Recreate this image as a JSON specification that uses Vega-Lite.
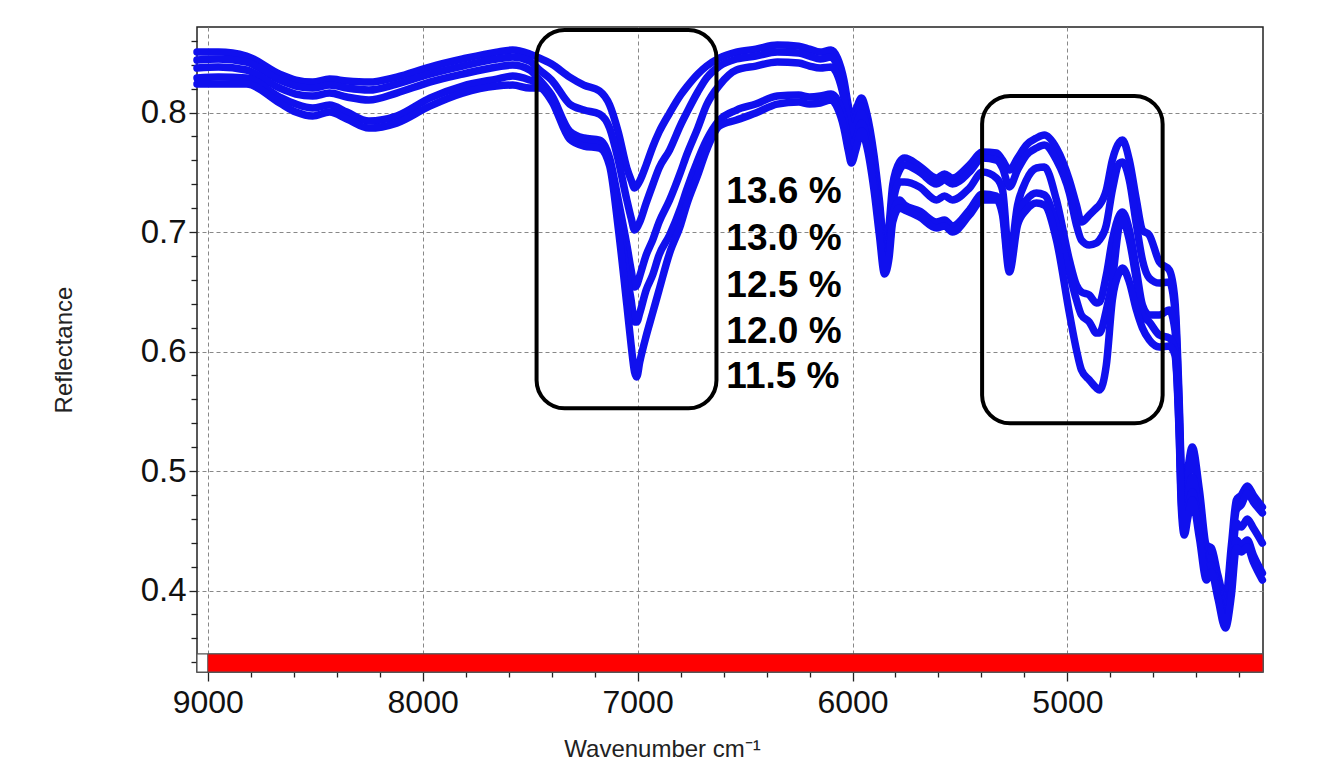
{
  "$schema": "https://vega.github.io/schema/vega-lite/v6.json",
  "width": 1066,
  "height": 645,
  "autosize": {"type": "none"},
  "padding": {"left": 197, "top": 27, "right": 56, "bottom": 90},
  "background": "white",
  "config": {
    "font": "Liberation Sans",
    "view": {"stroke": "#222", "strokeWidth": 1.5},
    "axis": {"labelFont": "Liberation Sans", "titleFont": "Liberation Sans"}
  },
  "encoding": {
    "x": {
      "field": "w",
      "type": "quantitative",
      "scale": {"domain": [4090, 9050], "reverse": true, "nice": false, "zero": false},
      "axis": {
        "title": "Wavenumber cm⁻¹",
        "values": [4200, 4400, 4600, 4800, 5000, 5200, 5400, 5600, 5800, 6000, 6200, 6400, 6600, 6800, 7000, 7200, 7400, 7600, 7800, 8000, 8200, 8400, 8600, 8800, 9000],
        "format": "d",
        "labelExpr": "datum.value % 1000 === 0 ? datum.label : ''",
        "labelFontSize": 32,
        "labelColor": "#111",
        "labelPadding": 6,
        "labelOverlap": false,
        "labelFlush": false,
        "labelBound": false,
        "tickSize": {"condition": {"test": "datum.value % 1000 === 0", "value": 9}, "value": 5},
        "tickColor": "#222",
        "tickWidth": 1.3,
        "domain": false,
        "grid": true,
        "gridOpacity": {"condition": {"test": "datum.value % 1000 === 0", "value": 1}, "value": 0},
        "gridColor": "#888",
        "gridDash": [4, 3],
        "gridWidth": 1,
        "titleFontSize": 24,
        "titleFontWeight": "normal",
        "titleColor": "#222",
        "titleX": 465,
        "titleY": 84,
        "titleBaseline": "alphabetic",
        "titleAlign": "center"
      }
    },
    "y": {
      "field": "r",
      "type": "quantitative",
      "scale": {"domain": [0.3318, 0.8716], "nice": false, "zero": false},
      "axis": {
        "title": "Reflectance",
        "values": [0.34, 0.36, 0.38, 0.4, 0.42, 0.44, 0.46, 0.48, 0.5, 0.52, 0.54, 0.56, 0.58, 0.6, 0.62, 0.64, 0.66, 0.68, 0.7, 0.72, 0.74, 0.76, 0.78, 0.8, 0.82, 0.84, 0.86],
        "labelExpr": "abs(datum.value*10 - round(datum.value*10)) < 0.001 ? format(datum.value, '.1f') : ''",
        "labelFontSize": 33,
        "labelColor": "#111",
        "labelPadding": 3,
        "labelOverlap": false,
        "labelFlush": false,
        "labelBound": false,
        "tickSize": {"condition": {"test": "abs(datum.value*10 - round(datum.value*10)) < 0.001", "value": 8}, "value": 6},
        "tickColor": "#222",
        "tickWidth": 1.3,
        "domain": false,
        "grid": true,
        "gridOpacity": {"condition": {"test": "abs(datum.value*10 - round(datum.value*10)) < 0.001", "value": 1}, "value": 0},
        "gridColor": "#888",
        "gridDash": [4, 3],
        "gridWidth": 1,
        "titleFontSize": 24,
        "titleFontWeight": "normal",
        "titleColor": "#222",
        "titlePadding": 64
      }
    }
  },
  "layer": [
    {
      "data": {"values": [{"w": 9050, "w2": 4090, "r": 0.3318, "r2": 0.3469}]},
      "mark": {"type": "rect", "fill": "white", "stroke": "#555", "strokeWidth": 1.2},
      "encoding": {"x2": {"field": "w2"}, "y2": {"field": "r2"}}
    },
    {
      "data": {"values": [{"w": 9000, "w2": 4090, "r": 0.3318, "r2": 0.3469}]},
      "mark": {"type": "rect", "fill": "#ff0000", "stroke": "#555", "strokeWidth": 1},
      "encoding": {"x2": {"field": "w2"}, "y2": {"field": "r2"}}
    },
    {
      "data": {"values": [
        {"w": 9050, "a": 0.8506, "b": 0.8439, "c": 0.8372, "d": 0.8289, "e": 0.8238},
        {"w": 8950, "a": 0.8506, "b": 0.8448, "c": 0.8381, "d": 0.8297, "e": 0.8238},
        {"w": 8820, "a": 0.8473, "b": 0.8423, "c": 0.8356, "d": 0.8289, "e": 0.8238},
        {"w": 8665, "a": 0.8322, "b": 0.8272, "c": 0.8205, "d": 0.8130, "e": 0.8080},
        {"w": 8590, "a": 0.8272, "b": 0.8222, "c": 0.8155, "d": 0.8071, "e": 0.8004},
        {"w": 8512, "a": 0.8255, "b": 0.8205, "c": 0.8138, "d": 0.8038, "e": 0.7971},
        {"w": 8433, "a": 0.8280, "b": 0.8230, "c": 0.8163, "d": 0.8063, "e": 0.8004},
        {"w": 8353, "a": 0.8264, "b": 0.8205, "c": 0.8130, "d": 0.8004, "e": 0.7946},
        {"w": 8250, "a": 0.8255, "b": 0.8188, "c": 0.8105, "d": 0.7929, "e": 0.7870},
        {"w": 8121, "a": 0.8297, "b": 0.8238, "c": 0.8163, "d": 0.7971, "e": 0.7912},
        {"w": 7967, "a": 0.8381, "b": 0.8322, "c": 0.8255, "d": 0.8121, "e": 0.8054},
        {"w": 7814, "a": 0.8448, "b": 0.8389, "c": 0.8322, "d": 0.8222, "e": 0.8163},
        {"w": 7656, "a": 0.8506, "b": 0.8448, "c": 0.8381, "d": 0.8280, "e": 0.8222},
        {"w": 7581, "a": 0.8523, "b": 0.8464, "c": 0.8398, "d": 0.8305, "e": 0.8230},
        {"w": 7502, "a": 0.8490, "b": 0.8431, "c": 0.8356, "d": 0.8272, "e": 0.8205},
        {"w": 7456, "a": 0.8456, "b": 0.8356, "c": 0.8272, "d": 0.8238, "e": 0.8205},
        {"w": 7400, "a": 0.8406, "b": 0.8272, "c": 0.8146, "d": 0.8121, "e": 0.8096},
        {"w": 7316, "a": 0.8297, "b": 0.8071, "c": 0.7845, "d": 0.7812, "e": 0.7778},
        {"w": 7250, "a": 0.8230, "b": 0.8021, "c": 0.7787, "d": 0.7753, "e": 0.7720},
        {"w": 7177, "a": 0.8180, "b": 0.7987, "c": 0.7770, "d": 0.7736, "e": 0.7703},
        {"w": 7130, "a": 0.8063, "b": 0.7870, "c": 0.7619, "d": 0.7586, "e": 0.7552},
        {"w": 7090, "a": 0.7837, "b": 0.7602, "c": 0.7268, "d": 0.7142, "e": 0.7034},
        {"w": 7050, "a": 0.7536, "b": 0.7268, "c": 0.6892, "d": 0.6640, "e": 0.6390},
        {"w": 7030, "a": 0.7435, "b": 0.7117, "c": 0.6682, "d": 0.6431, "e": 0.6054},
        {"w": 7014, "a": 0.7368, "b": 0.7017, "c": 0.6540, "d": 0.6247, "e": 0.5828},
        {"w": 7004, "a": 0.7385, "b": 0.7034, "c": 0.6556, "d": 0.6247, "e": 0.5787},
        {"w": 6990, "a": 0.7427, "b": 0.7084, "c": 0.6632, "d": 0.6322, "e": 0.5912},
        {"w": 6960, "a": 0.7561, "b": 0.7243, "c": 0.6808, "d": 0.6515, "e": 0.6130},
        {"w": 6930, "a": 0.7711, "b": 0.7393, "c": 0.6933, "d": 0.6640, "e": 0.6322},
        {"w": 6900, "a": 0.7837, "b": 0.7536, "c": 0.7084, "d": 0.6808, "e": 0.6515},
        {"w": 6851, "a": 0.7996, "b": 0.7686, "c": 0.7268, "d": 0.6975, "e": 0.6824},
        {"w": 6800, "a": 0.8146, "b": 0.7895, "c": 0.7502, "d": 0.7201, "e": 0.7059},
        {"w": 6772, "a": 0.8213, "b": 0.7996, "c": 0.7644, "d": 0.7352, "e": 0.7226},
        {"w": 6720, "a": 0.8322, "b": 0.8172, "c": 0.7870, "d": 0.7602, "e": 0.7477},
        {"w": 6679, "a": 0.8389, "b": 0.8289, "c": 0.8063, "d": 0.7770, "e": 0.7686},
        {"w": 6619, "a": 0.8456, "b": 0.8389, "c": 0.8230, "d": 0.7937, "e": 0.7887},
        {"w": 6540, "a": 0.8506, "b": 0.8448, "c": 0.8356, "d": 0.8021, "e": 0.7937},
        {"w": 6450, "a": 0.8531, "b": 0.8473, "c": 0.8389, "d": 0.8071, "e": 0.7996},
        {"w": 6350, "a": 0.8565, "b": 0.8506, "c": 0.8423, "d": 0.8138, "e": 0.8071},
        {"w": 6250, "a": 0.8556, "b": 0.8498, "c": 0.8414, "d": 0.8146, "e": 0.8088},
        {"w": 6200, "a": 0.8531, "b": 0.8473, "c": 0.8389, "d": 0.8130, "e": 0.8071},
        {"w": 6150, "a": 0.8506, "b": 0.8448, "c": 0.8372, "d": 0.8138, "e": 0.8080},
        {"w": 6100, "a": 0.8523, "b": 0.8464, "c": 0.8381, "d": 0.8155, "e": 0.8105},
        {"w": 6070, "a": 0.8456, "b": 0.8389, "c": 0.8314, "d": 0.8105, "e": 0.8038},
        {"w": 6040, "a": 0.8272, "b": 0.8205, "c": 0.8121, "d": 0.7954, "e": 0.7870},
        {"w": 6020, "a": 0.8063, "b": 0.7996, "c": 0.7921, "d": 0.7770, "e": 0.7686},
        {"w": 6005, "a": 0.7937, "b": 0.7870, "c": 0.7803, "d": 0.7669, "e": 0.7577},
        {"w": 5985, "a": 0.8021, "b": 0.7954, "c": 0.7887, "d": 0.7770, "e": 0.7686},
        {"w": 5958, "a": 0.8121, "b": 0.8054, "c": 0.7996, "d": 0.7912, "e": 0.7845},
        {"w": 5935, "a": 0.8004, "b": 0.7937, "c": 0.7879, "d": 0.7795, "e": 0.7728},
        {"w": 5900, "a": 0.7644, "b": 0.7586, "c": 0.7519, "d": 0.7435, "e": 0.7352},
        {"w": 5875, "a": 0.7268, "b": 0.7209, "c": 0.7142, "d": 0.7059, "e": 0.6975},
        {"w": 5851, "a": 0.6866, "b": 0.6808, "c": 0.6749, "d": 0.6699, "e": 0.6649},
        {"w": 5830, "a": 0.7059, "b": 0.6992, "c": 0.6916, "d": 0.6850, "e": 0.6782},
        {"w": 5813, "a": 0.7393, "b": 0.7310, "c": 0.7226, "d": 0.7142, "e": 0.7084},
        {"w": 5781, "a": 0.7586, "b": 0.7519, "c": 0.7418, "d": 0.7268, "e": 0.7201},
        {"w": 5758, "a": 0.7619, "b": 0.7561, "c": 0.7418, "d": 0.7226, "e": 0.7185},
        {"w": 5688, "a": 0.7552, "b": 0.7502, "c": 0.7377, "d": 0.7176, "e": 0.7126},
        {"w": 5609, "a": 0.7452, "b": 0.7402, "c": 0.7268, "d": 0.7084, "e": 0.7034},
        {"w": 5572, "a": 0.7485, "b": 0.7435, "c": 0.7301, "d": 0.7101, "e": 0.7050},
        {"w": 5535, "a": 0.7452, "b": 0.7402, "c": 0.7268, "d": 0.7050, "e": 0.7000},
        {"w": 5456, "a": 0.7561, "b": 0.7502, "c": 0.7368, "d": 0.7185, "e": 0.7142},
        {"w": 5395, "a": 0.7669, "b": 0.7619, "c": 0.7502, "d": 0.7318, "e": 0.7268},
        {"w": 5330, "a": 0.7661, "b": 0.7602, "c": 0.7452, "d": 0.7301, "e": 0.7268},
        {"w": 5302, "a": 0.7602, "b": 0.7536, "c": 0.7352, "d": 0.7185, "e": 0.7142},
        {"w": 5270, "a": 0.7519, "b": 0.7377, "c": 0.6782, "d": 0.6724, "e": 0.6665},
        {"w": 5232, "a": 0.7619, "b": 0.7519, "c": 0.7226, "d": 0.7142, "e": 0.7059},
        {"w": 5191, "a": 0.7728, "b": 0.7644, "c": 0.7435, "d": 0.7268, "e": 0.7185},
        {"w": 5144, "a": 0.7787, "b": 0.7703, "c": 0.7536, "d": 0.7326, "e": 0.7243},
        {"w": 5107, "a": 0.7812, "b": 0.7728, "c": 0.7544, "d": 0.7310, "e": 0.7226},
        {"w": 5051, "a": 0.7703, "b": 0.7602, "c": 0.7268, "d": 0.7059, "e": 0.6933},
        {"w": 4991, "a": 0.7435, "b": 0.7326, "c": 0.6766, "d": 0.6657, "e": 0.6322},
        {"w": 4958, "a": 0.7226, "b": 0.7059, "c": 0.6556, "d": 0.6431, "e": 0.6013},
        {"w": 4935, "a": 0.7084, "b": 0.6933, "c": 0.6498, "d": 0.6306, "e": 0.5846},
        {"w": 4898, "a": 0.7142, "b": 0.6892, "c": 0.6473, "d": 0.6247, "e": 0.5762},
        {"w": 4865, "a": 0.7201, "b": 0.6908, "c": 0.6406, "d": 0.6155, "e": 0.5695},
        {"w": 4851, "a": 0.7226, "b": 0.6933, "c": 0.6414, "d": 0.6155, "e": 0.5678},
        {"w": 4819, "a": 0.7352, "b": 0.7059, "c": 0.6640, "d": 0.6347, "e": 0.5887},
        {"w": 4791, "a": 0.7602, "b": 0.7352, "c": 0.6933, "d": 0.6598, "e": 0.6431},
        {"w": 4758, "a": 0.7753, "b": 0.7577, "c": 0.7142, "d": 0.7059, "e": 0.6665},
        {"w": 4744, "a": 0.7770, "b": 0.7586, "c": 0.7168, "d": 0.7101, "e": 0.6699},
        {"w": 4712, "a": 0.7602, "b": 0.7435, "c": 0.7017, "d": 0.6933, "e": 0.6582},
        {"w": 4679, "a": 0.7268, "b": 0.7059, "c": 0.6682, "d": 0.6598, "e": 0.6347},
        {"w": 4651, "a": 0.7017, "b": 0.6766, "c": 0.6390, "d": 0.6306, "e": 0.6197},
        {"w": 4619, "a": 0.6975, "b": 0.6615, "c": 0.6306, "d": 0.6247, "e": 0.6096},
        {"w": 4572, "a": 0.6749, "b": 0.6573, "c": 0.6306, "d": 0.6138, "e": 0.6038},
        {"w": 4526, "a": 0.6682, "b": 0.6582, "c": 0.6347, "d": 0.6113, "e": 0.6046},
        {"w": 4500, "a": 0.6431, "b": 0.6347, "c": 0.6180, "d": 0.6013, "e": 0.5971},
        {"w": 4480, "a": 0.5594, "b": 0.5510, "c": 0.5427, "d": 0.5343, "e": 0.5301},
        {"w": 4470, "a": 0.5008, "b": 0.4941, "c": 0.4841, "d": 0.4757, "e": 0.4691},
        {"w": 4456, "a": 0.4757, "b": 0.4716, "c": 0.4632, "d": 0.4531, "e": 0.4464},
        {"w": 4440, "a": 0.5008, "b": 0.4941, "c": 0.4799, "d": 0.4674, "e": 0.4607},
        {"w": 4419, "a": 0.5201, "b": 0.5134, "c": 0.4950, "d": 0.4824, "e": 0.4757},
        {"w": 4386, "a": 0.4841, "b": 0.4774, "c": 0.4632, "d": 0.4506, "e": 0.4439},
        {"w": 4353, "a": 0.4381, "b": 0.4322, "c": 0.4256, "d": 0.4155, "e": 0.4088},
        {"w": 4330, "a": 0.4356, "b": 0.4314, "c": 0.4272, "d": 0.4213, "e": 0.4155},
        {"w": 4300, "a": 0.4130, "b": 0.4088, "c": 0.4046, "d": 0.3988, "e": 0.3937},
        {"w": 4265, "a": 0.3920, "b": 0.3862, "c": 0.3795, "d": 0.3736, "e": 0.3686},
        {"w": 4237, "a": 0.4381, "b": 0.4297, "c": 0.4172, "d": 0.4046, "e": 0.3962},
        {"w": 4214, "a": 0.4757, "b": 0.4674, "c": 0.4565, "d": 0.4422, "e": 0.4356},
        {"w": 4191, "a": 0.4799, "b": 0.4716, "c": 0.4531, "d": 0.4381, "e": 0.4322},
        {"w": 4163, "a": 0.4874, "b": 0.4816, "c": 0.4598, "d": 0.4422, "e": 0.4364},
        {"w": 4135, "a": 0.4799, "b": 0.4741, "c": 0.4523, "d": 0.4297, "e": 0.4239},
        {"w": 4093, "a": 0.4699, "b": 0.4649, "c": 0.4397, "d": 0.4146, "e": 0.4088}
      ]},
      "transform": [{"fold": ["a", "b", "c", "d", "e"], "as": ["series", "r"]}],
      "mark": {"type": "line", "color": "#1010ee", "strokeWidth": 7.5, "interpolate": "monotone", "strokeJoin": "round", "strokeCap": "round"},
      "encoding": {"detail": {"field": "series", "type": "nominal"}}
    },
    {
      "data": {"values": [
        {"w": 7470, "w2": 6633, "r": 0.8691, "r2": 0.5525},
        {"w": 5397, "w2": 4557, "r": 0.8139, "r2": 0.5399}
      ]},
      "mark": {"type": "rect", "filled": false, "stroke": "black", "strokeWidth": 4, "cornerRadius": 28},
      "encoding": {"x2": {"field": "w2"}, "y2": {"field": "r2"}}
    },
    {
      "data": {"values": [
        {"w": 6587, "r": 0.7240, "label": "13.6 %"},
        {"w": 6587, "r": 0.6849, "label": "13.0 %"},
        {"w": 6587, "r": 0.6459, "label": "12.5 %"},
        {"w": 6587, "r": 0.6069, "label": "12.0 %"},
        {"w": 6587, "r": 0.5692, "label": "11.5 %"}
      ]},
      "mark": {"type": "text", "align": "left", "baseline": "alphabetic", "fontSize": 37, "fontWeight": "bold", "color": "black", "font": "Liberation Sans"},
      "encoding": {"text": {"field": "label", "type": "nominal"}}
    }
  ]
}
